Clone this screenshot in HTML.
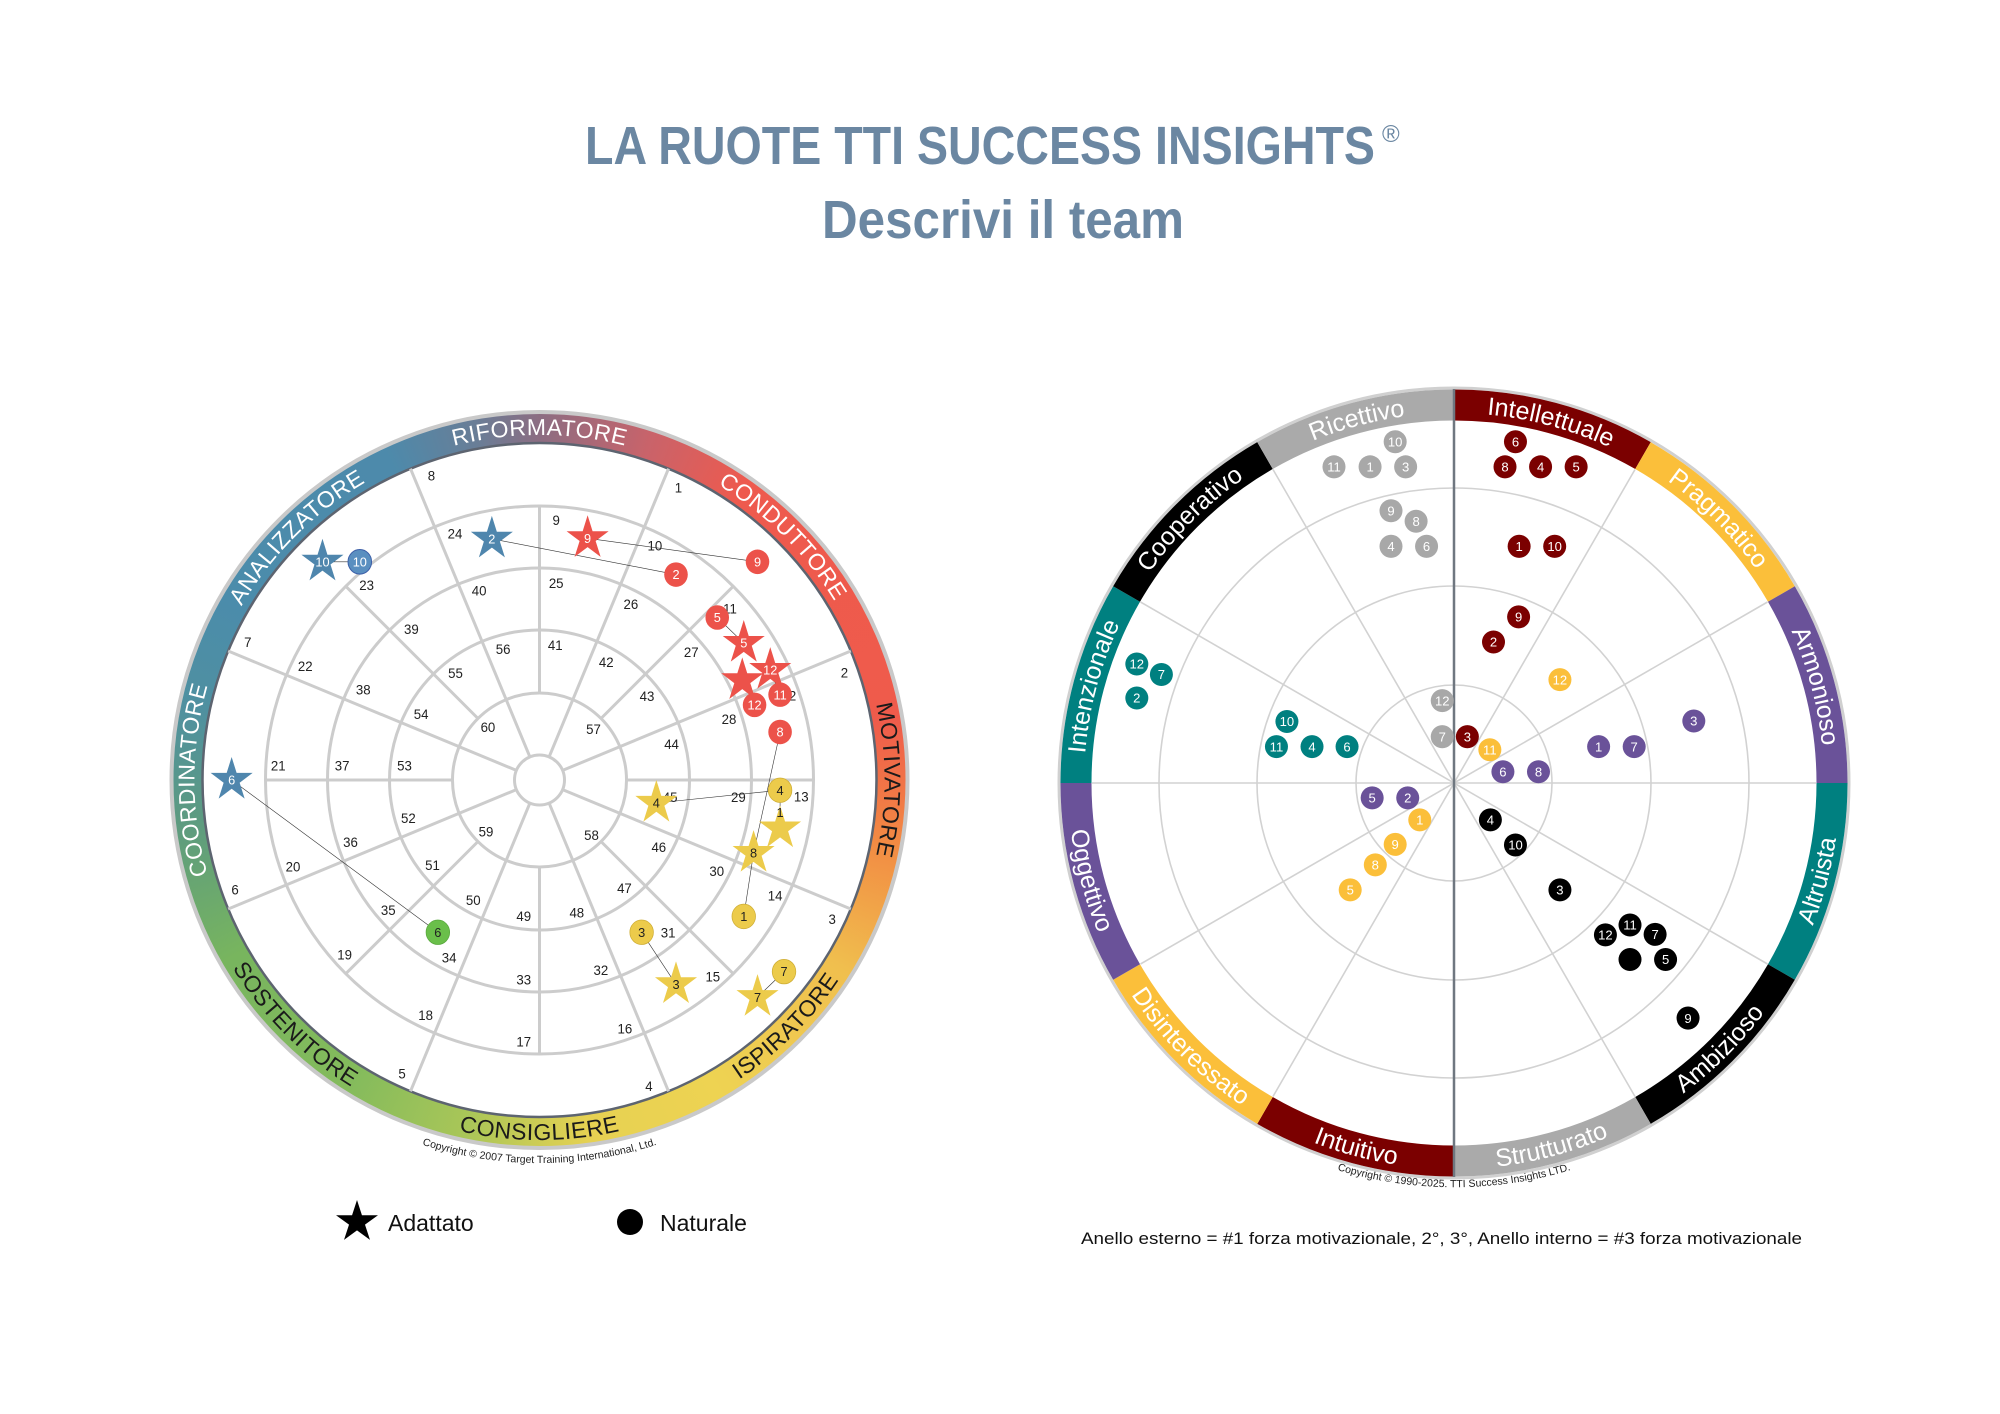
<!DOCTYPE html>
<html><head><meta charset="utf-8">
<style>
html,body{margin:0;padding:0;background:#fff;}
body{width:2000px;height:1414px;position:relative;overflow:hidden;font-family:"Liberation Sans",sans-serif;}
#ring{position:absolute;left:172px;top:413px;width:735px;height:735px;border-radius:50%;
background:conic-gradient(from 0deg,#8c6d82 0deg,#c9636a 18deg,#ee5a4e 35deg,#ef5b4b 80deg,#f28a43 100deg,#f0bf4e 122deg,#eed352 150deg,#e6d152 172deg,#a9c658 192deg,#84bb5c 212deg,#78b55e 240deg,#5e9c7e 262deg,#4f90a0 282deg,#4b8cab 300deg,#4d8aab 335deg,#6a7d96 350deg,#8c6d82 360deg);}
svg{position:absolute;left:0;top:0;}
</style></head><body>
<div id="ring"></div>
<svg width="2000" height="1414" viewBox="0 0 2000 1414" xmlns="http://www.w3.org/2000/svg">
<defs>
<path id="st" d="M0,-45 L10.1,-13.9 L42.8,-13.9 L16.3,5.3 L26.5,36.4 L0,17.2 L-26.5,36.4 L-16.3,5.3 L-42.8,-13.9 L-10.1,-13.9Z"/>
<path id="lp1" d="M-298.8,-172.5 A345 345 0 0 1 298.8,-172.5"/>
<path id="lp2" d="M-89.3,-333.2 A345 345 0 0 1 333.2,89.3"/>
<path id="lp3" d="M172.5,-298.8 A345 345 0 0 1 172.5,298.8"/>
<path id="lp4" d="M-172.5,298.8 A345 345 0 0 1 -172.5,-298.8"/>
<path id="lp5" d="M-333.2,89.3 A345 345 0 0 1 89.3,-333.2"/>
<path id="lp6" d="M-93.2,347.7 A360 360 0 0 0 347.7,-93.2"/>
<path id="lp7" d="M-311.8,180 A360 360 0 0 0 311.8,180"/>
<path id="lp8" d="M-347.7,-93.2 A360 360 0 0 0 93.2,347.7"/>
<path id="lpc" d="M-332,192 A384 384 0 0 0 332,192"/>
<path id="rpc" d="M-350,202 A404 404 0 0 0 350,202"/>
<path id="r0" d="M0,-370 A370 370 0 0 1 185,-320.4"/>
<path id="r1" d="M185,-320.4 A370 370 0 0 1 320.4,-185"/>
<path id="r2" d="M320.4,-185 A370 370 0 0 1 370,0"/>
<path id="r3" d="M334.3,193 A386 386 0 0 0 386,0"/>
<path id="r4" d="M193,334.3 A386 386 0 0 0 334.3,193"/>
<path id="r5" d="M0,386 A386 386 0 0 0 193,334.3"/>
<path id="r6" d="M-193,334.3 A386 386 0 0 0 0,386"/>
<path id="r7" d="M-334.3,193 A386 386 0 0 0 -193,334.3"/>
<path id="r8" d="M-386,0 A386 386 0 0 0 -334.3,193"/>
<path id="r9" d="M-370,0 A370 370 0 0 1 -320.4,-185"/>
<path id="r10" d="M-320.4,-185 A370 370 0 0 1 -185,-320.4"/>
<path id="r11" d="M-185,-320.4 A370 370 0 0 1 0,-370"/>
</defs>

<text x="585" y="164" font-family="Liberation Sans" font-weight="bold" font-size="54" fill="#6b87a2" textLength="790" lengthAdjust="spacingAndGlyphs">LA RUOTE TTI SUCCESS INSIGHTS</text>
<text x="1382" y="142" font-family="Liberation Sans" font-size="24" fill="#6b87a2">®</text>
<text x="822" y="238" font-family="Liberation Sans" font-weight="bold" font-size="54" fill="#6b87a2" textLength="362" lengthAdjust="spacingAndGlyphs">Descrivi il team</text>

<g transform="translate(539.5,780)">
<circle r="368" fill="none" stroke="#c9c9c9" stroke-width="4"/>
<circle r="337" fill="#fff" stroke="#5d6470" stroke-width="2.5"/>
<g stroke="#cccccc" stroke-width="3" fill="none">
<circle r="25"/><circle r="87"/><circle r="150"/><circle r="212"/><circle r="274"/>
<path d="M23.1,9.6 L311.3,129 M9.6,23.1 L129,311.3 M-23.1,9.6 L-311.3,129 M-9.6,23.1 L-129,311.3 M23.1,-9.6 L311.3,-129 M9.6,-23.1 L129,-311.3 M-23.1,-9.6 L-311.3,-129 M-9.6,-23.1 L-129,-311.3"/>
<path d="M87,0 L274,0 M-87,0 L-274,0 M0,87 L0,274 M0,-87 L0,-274 M61.5,61.5 L193.7,193.7 M-61.5,61.5 L-193.7,193.7 M61.5,-61.5 L193.7,-193.7 M-61.5,-61.5 L-193.7,-193.7"/>
</g>
<g font-family="Liberation Sans" font-size="23" text-anchor="middle" letter-spacing="0.5">
<text fill="#fff"><textPath href="#lp1" startOffset="50%">RIFORMATORE</textPath></text>
<text fill="#fff"><textPath href="#lp2" startOffset="50%">CONDUTTORE</textPath></text>
<text fill="#1a1a1a"><textPath href="#lp3" startOffset="50%">MOTIVATORE</textPath></text>
<text fill="#fff"><textPath href="#lp4" startOffset="50%">COORDINATORE</textPath></text>
<text fill="#fff"><textPath href="#lp5" startOffset="50%">ANALIZZATORE</textPath></text>
<text fill="#1a1a1a"><textPath href="#lp6" startOffset="50%">ISPIRATORE</textPath></text>
<text fill="#1a1a1a"><textPath href="#lp7" startOffset="50%">CONSIGLIERE</textPath></text>
<text fill="#1a1a1a"><textPath href="#lp8" startOffset="50%">SOSTENITORE</textPath></text>
</g>
<text font-family="Liberation Sans" font-size="10.5" fill="#222" text-anchor="middle"><textPath href="#lpc" startOffset="50%">Copyright © 2007 Target Training International, Ltd.</textPath></text>
</g>

<g transform="translate(539.5,780) scale(0.491,0.511) translate(-732,-785)">
<g font-family="Liberation Sans" font-size="27" fill="#222" text-anchor="middle">
<text x="512" y="199">8</text><text x="1015" y="222">1</text><text x="1353" y="584">2</text><text x="1328" y="1067">3</text><text x="955" y="1394">4</text><text x="452" y="1369">5</text><text x="112" y="1009">6</text><text x="138" y="525">7</text>
<text x="766" y="286">9</text><text x="967" y="336">10</text><text x="1120" y="459">11</text><text x="1240" y="629">12</text><text x="1265" y="827">13</text><text x="1212" y="1021">14</text><text x="1085" y="1179">15</text><text x="906" y="1281">16</text><text x="700" y="1307">17</text><text x="500" y="1255">18</text><text x="335" y="1136">19</text><text x="230" y="964">20</text><text x="200" y="766">21</text><text x="255" y="572">22</text><text x="380" y="413">23</text><text x="560" y="312">24</text>
<text x="766" y="409">25</text><text x="918" y="450">26</text><text x="1041" y="544">27</text><text x="1118" y="675">28</text><text x="1137" y="828">29</text><text x="1093" y="973">30</text><text x="994" y="1093">31</text><text x="857" y="1167">32</text><text x="700" y="1185">33</text><text x="548" y="1142">34</text><text x="424" y="1049">35</text><text x="347" y="916">36</text><text x="330" y="766">37</text><text x="373" y="618">38</text><text x="471" y="499">39</text><text x="609" y="424">40</text>
<text x="764" y="531">41</text><text x="868" y="564">42</text><text x="951" y="630">43</text><text x="1001" y="724">44</text><text x="998" y="828">45</text><text x="975" y="926">46</text><text x="905" y="1006">47</text><text x="808" y="1054">48</text><text x="700" y="1061">49</text><text x="597" y="1030">50</text><text x="514" y="961">51</text><text x="465" y="869">52</text><text x="457" y="766">53</text><text x="491" y="666">54</text><text x="561" y="585">55</text><text x="658" y="538">56</text>
<text x="842" y="695">57</text><text x="838" y="902">58</text><text x="623" y="896">59</text><text x="627" y="691">60</text>
</g>
<g stroke="#333" stroke-width="1.2" fill="none">
<path d="M635,313 L1010,383 M830,312 L1176,358 M105,785 L525,1083 M290,358 L366,358 M970,830 L1222,805 M1222,691 L1168,928 L1148,1052 M1222,805 L1222,880 M940,1083 L1010,1185 M1230,1160 L1176,1210 M1094,467 L1148,517 M1170,638 L1145,590 M1222,618 L1202,570"/>
</g>
<g fill="#ec524a">
<circle cx="1176" cy="358" r="24"/><circle cx="1010" cy="383" r="24"/><circle cx="1094" cy="467" r="24"/><circle cx="1170" cy="638" r="24"/><circle cx="1222" cy="618" r="24"/><circle cx="1222" cy="691" r="24"/>
</g>
<g fill="#ec524a">
<use href="#st" x="830" y="312"/><use href="#st" x="1148" y="517"/><use href="#st" x="1145" y="590"/><use href="#st" x="1202" y="570"/>
</g>
<g fill="#4f86ad">
<use href="#st" x="290" y="358"/><use href="#st" x="635" y="313"/><use href="#st" x="105" y="785"/>
</g>
<circle cx="366" cy="358" r="24" fill="#5a8fc0" stroke="#3c5fa8" stroke-width="2"/>
<g fill="#eccb4b">
<use href="#st" x="970" y="830"/><use href="#st" x="1222" y="880"/><use href="#st" x="1168" y="928"/><use href="#st" x="1010" y="1185"/><use href="#st" x="1176" y="1210"/>
</g>
<g fill="#eccb4b" stroke="#cfae35" stroke-width="1.5">
<circle cx="1222" cy="805" r="24"/><circle cx="1148" cy="1052" r="24"/><circle cx="940" cy="1083" r="24"/><circle cx="1230" cy="1160" r="24"/>
</g>
<circle cx="525" cy="1083" r="24" fill="#6abf4a" stroke="#58a83c" stroke-width="1.5"/>
<g font-family="Liberation Sans" font-size="26" text-anchor="middle" fill="#fff">
<text x="1176" y="367">9</text><text x="1010" y="392">2</text><text x="1094" y="476">5</text><text x="1170" y="647">12</text><text x="1222" y="627">11</text><text x="1222" y="700">8</text>
<text x="830" y="321">9</text><text x="1148" y="526">5</text><text x="1202" y="579">12</text>
<text x="290" y="367">10</text><text x="366" y="367">10</text><text x="635" y="322">2</text><text x="105" y="794">6</text>
</g>
<g font-family="Liberation Sans" font-size="26" text-anchor="middle" fill="#222">
<text x="970" y="839">4</text><text x="1222" y="857">1</text><text x="1168" y="937">8</text><text x="1010" y="1194">3</text><text x="1176" y="1219">7</text>
<text x="1222" y="814">4</text><text x="1148" y="1061">1</text><text x="940" y="1092">3</text><text x="1230" y="1169">7</text><text x="525" y="1092">6</text>
</g>
</g>

<use href="#st" transform="translate(357,1222) scale(0.49)" fill="#000"/>
<text x="388" y="1231" font-family="Liberation Sans" font-size="23" fill="#111">Adattato</text>
<circle cx="630" cy="1222" r="13" fill="#000"/>
<text x="660" y="1231" font-family="Liberation Sans" font-size="23" fill="#111">Naturale</text>
<text x="1081" y="1244" font-family="Liberation Sans" font-size="17" fill="#111" textLength="721" lengthAdjust="spacingAndGlyphs">Anello esterno = #1 forza motivazionale, 2°, 3°, Anello interno = #3 forza motivazionale</text>

<g transform="translate(1454,783)">
<circle r="395" fill="none" stroke="#d0d0d0" stroke-width="3"/>
<g stroke="#d2d2d2" stroke-width="1.6" fill="none">
<circle r="98"/><circle r="197"/><circle r="295"/>
<path d="M-362,0 L362,0 M181,-313.5 L-181,313.5 M313.5,-181 L-313.5,181 M-181,-313.5 L181,313.5 M-313.5,-181 L313.5,181"/>
</g>
<g fill="none" stroke-width="31">
<path d="M0,-378 A378 378 0 0 1 189,-327.4" stroke="#7b0000"/>
<path d="M189,-327.4 A378 378 0 0 1 327.4,-189" stroke="#fbbf3a"/>
<path d="M327.4,-189 A378 378 0 0 1 378,0" stroke="#6a5299"/>
<path d="M378,0 A378 378 0 0 1 327.4,189" stroke="#008080"/>
<path d="M327.4,189 A378 378 0 0 1 189,327.4" stroke="#000"/>
<path d="M189,327.4 A378 378 0 0 1 0,378" stroke="#aaaaaa"/>
<path d="M0,378 A378 378 0 0 1 -189,327.4" stroke="#7b0000"/>
<path d="M-189,327.4 A378 378 0 0 1 -327.4,189" stroke="#fbbf3a"/>
<path d="M-327.4,189 A378 378 0 0 1 -378,0" stroke="#6a5299"/>
<path d="M-378,0 A378 378 0 0 1 -327.4,-189" stroke="#008080"/>
<path d="M-327.4,-189 A378 378 0 0 1 -189,-327.4" stroke="#000"/>
<path d="M-189,-327.4 A378 378 0 0 1 0,-378" stroke="#aaaaaa"/>
</g>
<line x1="0" y1="-394" x2="0" y2="394" stroke="#6f7780" stroke-width="2.5"/>
<g font-family="Liberation Sans" font-size="25" fill="#fff" text-anchor="middle">
<text><textPath href="#r0" startOffset="50%">Intellettuale</textPath></text>
<text><textPath href="#r1" startOffset="50%">Pragmatico</textPath></text>
<text><textPath href="#r2" startOffset="50%">Armonioso</textPath></text>
<text><textPath href="#r3" startOffset="50%">Altruista</textPath></text>
<text><textPath href="#r4" startOffset="50%">Ambizioso</textPath></text>
<text><textPath href="#r5" startOffset="50%">Strutturato</textPath></text>
<text><textPath href="#r6" startOffset="50%">Intuitivo</textPath></text>
<text><textPath href="#r7" startOffset="50%">Disinteressato</textPath></text>
<text><textPath href="#r8" startOffset="50%">Oggettivo</textPath></text>
<text><textPath href="#r9" startOffset="50%">Intenzionale</textPath></text>
<text><textPath href="#r10" startOffset="50%">Cooperativo</textPath></text>
<text><textPath href="#r11" startOffset="50%">Ricettivo</textPath></text>
</g>
<text font-family="Liberation Sans" font-size="10.5" fill="#222" text-anchor="middle"><textPath href="#rpc" startOffset="50%">Copyright © 1990-2025. TTI Success Insights LTD.</textPath></text>
</g>

<g transform="translate(1050,380) scale(0.523)">
<g fill="#a8a8a8">
<circle cx="660" cy="118" r="22"/><circle cx="543" cy="166" r="22"/><circle cx="612" cy="166" r="22"/><circle cx="680" cy="166" r="22"/><circle cx="652" cy="250" r="22"/><circle cx="700" cy="270" r="22"/><circle cx="652" cy="318" r="22"/><circle cx="720" cy="318" r="22"/><circle cx="750" cy="613" r="22"/><circle cx="750" cy="682" r="22"/>
</g>
<g fill="#7b0000">
<circle cx="890" cy="118" r="22"/><circle cx="870" cy="166" r="22"/><circle cx="938" cy="166" r="22"/><circle cx="1006" cy="166" r="22"/><circle cx="897" cy="318" r="22"/><circle cx="965" cy="318" r="22"/><circle cx="896" cy="453" r="22"/><circle cx="848" cy="501" r="22"/><circle cx="798" cy="682" r="22"/>
</g>
<g fill="#fbbf3a">
<circle cx="975" cy="573" r="22"/><circle cx="841" cy="707" r="22"/><circle cx="707" cy="841" r="22"/><circle cx="660" cy="888" r="22"/><circle cx="622" cy="927" r="22"/><circle cx="574" cy="975" r="22"/>
</g>
<g fill="#6a5299">
<circle cx="1231" cy="652" r="22"/><circle cx="1049" cy="701" r="22"/><circle cx="1117" cy="701" r="22"/><circle cx="866" cy="749" r="22"/><circle cx="934" cy="749" r="22"/><circle cx="616" cy="799" r="22"/><circle cx="684" cy="799" r="22"/>
</g>
<g fill="#008080">
<circle cx="166" cy="543" r="22"/><circle cx="213" cy="563" r="22"/><circle cx="166" cy="608" r="22"/><circle cx="453" cy="653" r="22"/><circle cx="433" cy="701" r="22"/><circle cx="501" cy="701" r="22"/><circle cx="568" cy="701" r="22"/>
</g>
<g fill="#000">
<circle cx="842" cy="841" r="22"/><circle cx="890" cy="889" r="22"/><circle cx="975" cy="975" r="22"/><circle cx="1109" cy="1042" r="22"/><circle cx="1062" cy="1061" r="22"/><circle cx="1157" cy="1060" r="22"/><circle cx="1109" cy="1108" r="22"/><circle cx="1177" cy="1108" r="22"/><circle cx="1220" cy="1220" r="22"/>
</g>
<g font-family="Liberation Sans" font-size="25" fill="#fff" text-anchor="middle">
<text x="660" y="127">10</text><text x="543" y="175">11</text><text x="612" y="175">1</text><text x="680" y="175">3</text><text x="652" y="259">9</text><text x="700" y="279">8</text><text x="652" y="327">4</text><text x="720" y="327">6</text><text x="750" y="622">12</text><text x="750" y="691">7</text>
<text x="890" y="127">6</text><text x="870" y="175">8</text><text x="938" y="175">4</text><text x="1006" y="175">5</text><text x="897" y="327">1</text><text x="965" y="327">10</text><text x="896" y="462">9</text><text x="848" y="510">2</text><text x="798" y="691">3</text>
<text x="975" y="582">12</text><text x="841" y="716">11</text><text x="707" y="850">1</text><text x="660" y="897">9</text><text x="622" y="936">8</text><text x="574" y="984">5</text>
<text x="1231" y="661">3</text><text x="1049" y="710">1</text><text x="1117" y="710">7</text><text x="866" y="758">6</text><text x="934" y="758">8</text><text x="616" y="808">5</text><text x="684" y="808">2</text>
<text x="166" y="552">12</text><text x="213" y="572">7</text><text x="166" y="617">2</text><text x="453" y="662">10</text><text x="433" y="710">11</text><text x="501" y="710">4</text><text x="568" y="710">6</text>
<text x="842" y="850">4</text><text x="890" y="898">10</text><text x="975" y="984">3</text><text x="1109" y="1051">11</text><text x="1062" y="1070">12</text><text x="1157" y="1069">7</text><text x="1177" y="1117">5</text><text x="1220" y="1229">9</text>
</g>
</g>
</svg>
</body></html>
